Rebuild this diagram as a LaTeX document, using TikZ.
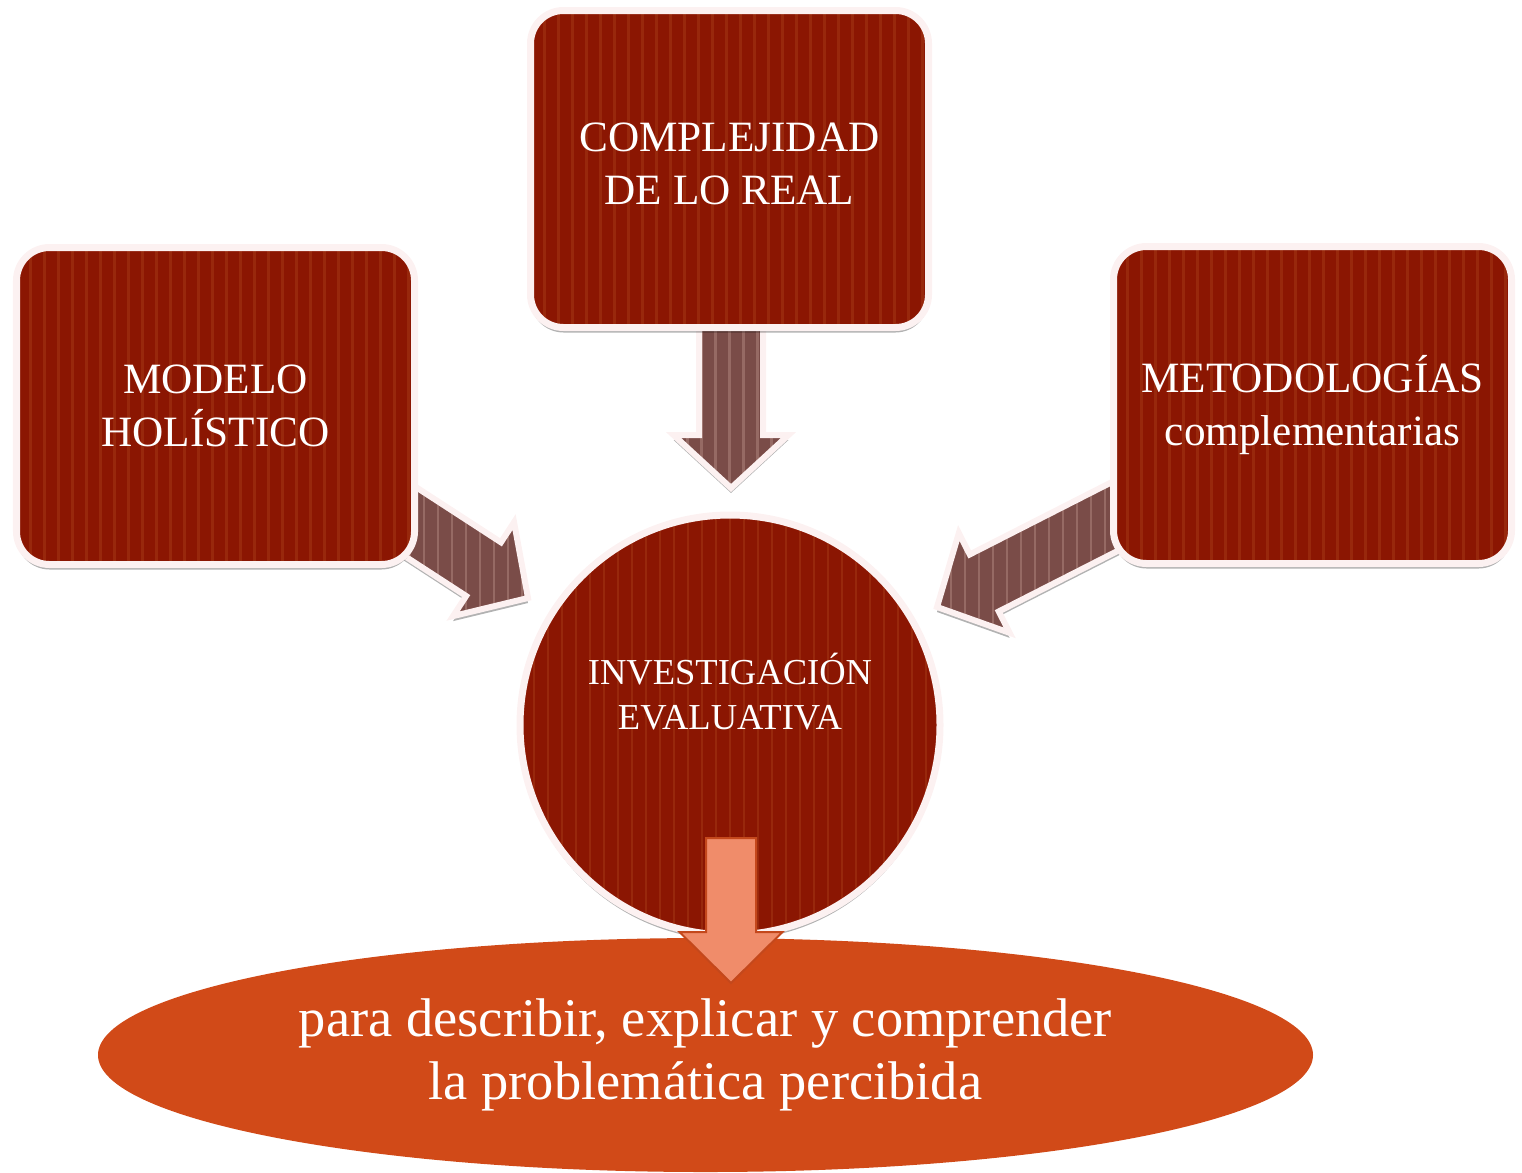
\documentclass[tikz,border=0pt]{standalone}
\usepackage{fontspec}
\setmainfont{Liberation Serif}
\usetikzlibrary{shapes.geometric,shadows,calc}

\definecolor{boxred}{RGB}{139,22,2}
\definecolor{boxstripe}{RGB}{152,40,12}
\definecolor{rim}{RGB}{252,241,241}
\definecolor{arrowbrown}{RGB}{122,76,72}
\definecolor{arrowstripe}{RGB}{150,106,100}
\definecolor{goalred}{RGB}{209,74,24}
\definecolor{goalarrow}{RGB}{240,140,106}
\definecolor{goaledge}{RGB}{196,72,28}

\tikzset{
  softshadow/.style={drop shadow={shadow xshift=0cm, shadow yshift=-0.05cm, opacity=0.3, fill=black}},
  stripes/.style={path picture={
    \foreach \i in {0,...,45}
      \draw[#1, line width=0.025cm]
        ([xshift=\i*0.14cm]path picture bounding box.south west)
        -- ([xshift=\i*0.14cm]path picture bounding box.north west);}},
  redfill/.style={softshadow, fill=boxred, stripes=boxstripe,
    draw=rim, line width=0.07cm},
  redbox/.style={redfill, rectangle, rounded corners=0.33cm,
    minimum width=3.98cm, minimum height=3.17cm},
  redcircle/.style={redfill, circle, minimum size=4.2cm},
  boxtext/.style={text=white, align=center, font=\fontsize{12.3}{15}\selectfont},
  brownarrow/.style={softshadow, fill=arrowbrown, stripes=arrowstripe,
    draw=rim, line width=0.06cm},
  goalarrowstyle/.style={fill=goalarrow, draw=goaledge, line width=0.02cm}
}

% block arrow: style, from, to, head length, head half width, shaft half width
\newcommand{\blockarrow}[6]{%
  \coordinate (ah) at ($(#3)!#4!(#2)$);
  \path[#1] (#3) -- ($(ah)!#5!90:(#3)$) -- ($(ah)!#6!90:(#3)$) -- ($(#2)!#6!90:(#3)$)
    -- ($(#2)!#6!-90:(#3)$) -- ($(ah)!#6!-90:(#3)$) -- ($(ah)!#5!-90:(#3)$) -- cycle;
}

\begin{document}
\begin{tikzpicture}
  \useasboundingbox (0,0) rectangle (15.22,-11.72);

  % arrow ends
  \coordinate (topstart) at (7.31,-3.20);
  \coordinate (toptip) at (7.31,-4.88);
  \coordinate (leftstart) at (3.854,-5.054);
  \coordinate (lefttip) at (5.28,-5.98);
  \coordinate (rightstart) at (11.42,-5.026);
  \coordinate (righttip) at (9.37,-6.07);

  \blockarrow{brownarrow}{topstart}{toptip}{0.53cm}{0.575cm}{0.32cm}
  \blockarrow{brownarrow}{leftstart}{lefttip}{0.53cm}{0.56cm}{0.32cm}
  \blockarrow{brownarrow}{rightstart}{righttip}{0.53cm}{0.56cm}{0.32cm}

  \node[redbox] (modelo) at (2.155,-4.06) {};
  \node[boxtext] (modelotext) at (modelo) {MODELO\\HOLÍSTICO};
  \node[redbox] (complejidad) at (7.295,-1.69) {};
  \node[boxtext] (complejidadtext) at ([yshift=0.05cm]complejidad) {COMPLEJIDAD\\DE LO REAL};
  \node[redbox] (metodo) at (13.125,-4.05) {};
  \node[boxtext] (metodotext) at (metodo) {METODOLOGÍAS\\complementarias};

  \node[redcircle] (inv) at (7.30,-7.25) {};
  \node[boxtext, font=\fontsize{10.4}{12.8}\selectfont] (invtext)
    at ([yshift=0.33cm]inv.center) {INVESTIGACIÓN\\EVALUATIVA};

  \node[ellipse, fill=goalred, minimum width=12.15cm, minimum height=2.34cm,
    text=white, align=center, font=\fontsize{15.5}{17.8}\selectfont]
    (goal) at (7.055,-10.55) {para describir, explicar y comprender\\la problemática percibida};

  \coordinate (goalstart) at (7.31,-8.38);
  \coordinate (goaltip) at (7.31,-9.83);
  \blockarrow{goalarrowstyle}{goalstart}{goaltip}{0.51cm}{0.515cm}{0.25cm}
\end{tikzpicture}
\end{document}
